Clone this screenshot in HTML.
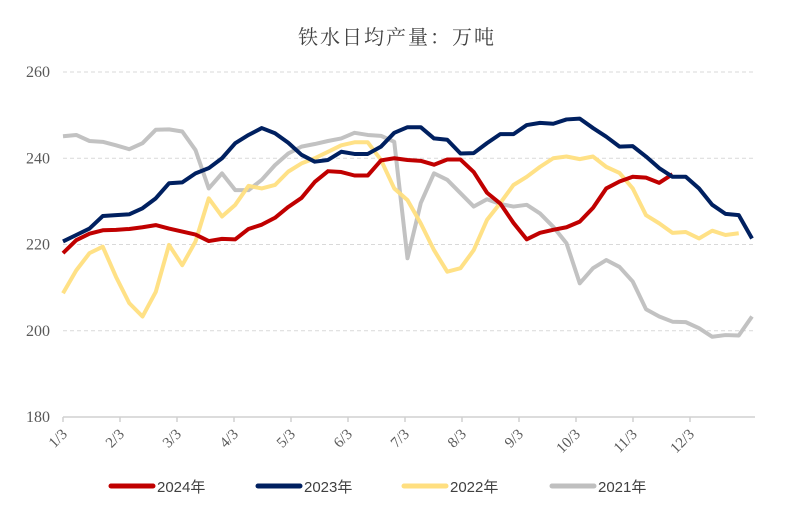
<!DOCTYPE html>
<html><head><meta charset="utf-8"><style>
body{margin:0;background:#fff;}
svg{display:block;font-family:"Liberation Sans","Noto Sans CJK SC",sans-serif;}
</style></head><body>
<svg id="chart" width="793" height="525">
<text x="397" y="44" text-anchor="middle" font-size="20" fill="#404040" letter-spacing="2" font-family="'Noto Serif CJK SC','Liberation Serif',serif">铁水日均产量：万吨</text>
<g id="grid"></g>
<g id="axes"></g>
<g id="series"></g>
<g id="legend"></g>
</svg>
<script>
const yTicks=[180,200,220,240,260];
const xLabels=["1/3","2/3","3/3","4/3","5/3","6/3","7/3","8/3","9/3","10/3","11/3","12/3"];
const s2024=[218,221,222.5,223.3,223.4,223.6,224,224.5,223.7,223,222.3,220.8,221.3,221.2,223.6,224.6,226.2,228.7,230.8,234.5,237,236.8,236,236,239.5,240,239.6,239.4,238.5,239.7,239.7,236.8,232,229.5,225,221.2,222.7,223.4,224,225.3,228.5,233,234.6,235.7,235.5,234.3,236.3];
const s2023=[220.7,222.2,223.7,226.6,226.8,227,228.4,230.7,234.2,234.4,236.5,237.7,240,243.5,245.4,247,245.8,243.6,240.8,239.2,239.6,241.5,241,241,242.7,245.9,247.2,247.2,244.6,244.3,241.1,241.2,243.5,245.6,245.6,247.7,248.2,248,249,249.2,247,245,242.7,242.8,240.4,237.7,235.7,235.7,233,229.2,227.1,226.8,221.4];
const s2022=[208.7,214,218,219.5,212.5,206.4,203.3,209,219.9,215.2,220.7,230.7,226.5,229.2,233.6,233,233.8,236.9,238.8,240,241.5,243,243.7,243.7,239.6,233,230.3,224.9,218.7,213.7,214.5,218.7,225.7,229.6,233.8,235.7,238,240,240.4,239.8,240.4,238,236.6,233,226.8,224.9,222.7,222.9,221.4,223.2,222.2,222.6];
const s2021=[245.1,245.4,244,243.8,243,242.1,243.5,246.6,246.7,246.2,241.9,233,236.5,232.6,232.6,235,238.4,241.1,242.7,243.3,244,244.6,245.9,245.4,245.2,243.8,216.8,229.6,236.5,235,231.9,228.8,230.5,229.4,228.8,229.2,227.2,224.1,220.3,211,214.5,216.4,214.8,211.4,205,203.3,202.1,202,200.6,198.6,199,198.9,203.3];
const seriesNames=["2024年","2023年","2022年","2021年"];
const NS="http://www.w3.org/2000/svg";
const X0=63,STEP=13.25,Y0=417,Y1=72;
const SERIF="'Liberation Serif',serif";
function xw(i){return X0+i*STEP;}
function xm(m){return X0+m*(690-63)/11;}
function y(v){return Y0-(v-180)*(Y0-Y1)/80;}
function mk(t,a,p){const e=document.createElementNS(NS,t);for(const k in a)e.setAttribute(k,a[k]);p.appendChild(e);return e;}
const grid=document.getElementById('grid'),axes=document.getElementById('axes'),ser=document.getElementById('series'),leg=document.getElementById('legend');
yTicks.forEach(v=>{
 if(v>180){const l=mk('line',{x1:X0,x2:755,y1:y(v),y2:y(v),stroke:'#d9d9d9','stroke-dasharray':'4,3'},grid);
 
 }
 const t=mk('text',{x:50,y:y(v)+5,'text-anchor':'end','font-size':16,fill:'#595959','font-family':SERIF},axes);t.textContent=v;
 
 
});
const ax=mk('line',{x1:X0,x2:755,y1:Y0,y2:Y0,stroke:'#d0d0d0','stroke-width':1.5},axes);


xLabels.forEach((s,m)=>{
 const x=xm(m);
 mk('line',{x1:x,x2:x,y1:Y0,y2:Y0+5,stroke:'#d0d0d0','stroke-width':1.5},axes);
 const t=mk('text',{x:x+5,y:Y0+18,'text-anchor':'end','font-size':15,fill:'#595959','font-family':SERIF,transform:`rotate(-45 ${x+5} ${Y0+18})`},axes);t.textContent=s;
 
 
});
const defs=[[s2021,'#bfbfbf'],[s2022,'#ffdf80'],[s2024,'#c00000'],[s2023,'#002060']];
const names={'#bfbfbf':'line-2021','#ffdf80':'line-2022','#c00000':'line-2024','#002060':'line-2023'};
defs.forEach(([d,c])=>{
 const p=mk('polyline',{points:d.map((v,i)=>xw(i)+','+y(v)).join(' '),fill:'none',stroke:c,'stroke-width':4,'stroke-linejoin':'round',opacity:c==='#ffdf80'||c==='#bfbfbf'?0.95:1},ser);
 
 
});
const legCols=['#c00000','#002060','#ffdf80','#bfbfbf'],legX=[111,258,404,552];
seriesNames.forEach((n,i)=>{
 const g=mk('g',{},leg);
 
 
 mk('line',{x1:legX[i],x2:legX[i]+42,y1:486,y2:486,stroke:legCols[i],'stroke-width':5,'stroke-linecap':'round'},g);
 const t=mk('text',{x:legX[i]+46,y:492,'font-size':15,fill:'#404040'},g);t.textContent=n;
});
</script>
</body></html>
